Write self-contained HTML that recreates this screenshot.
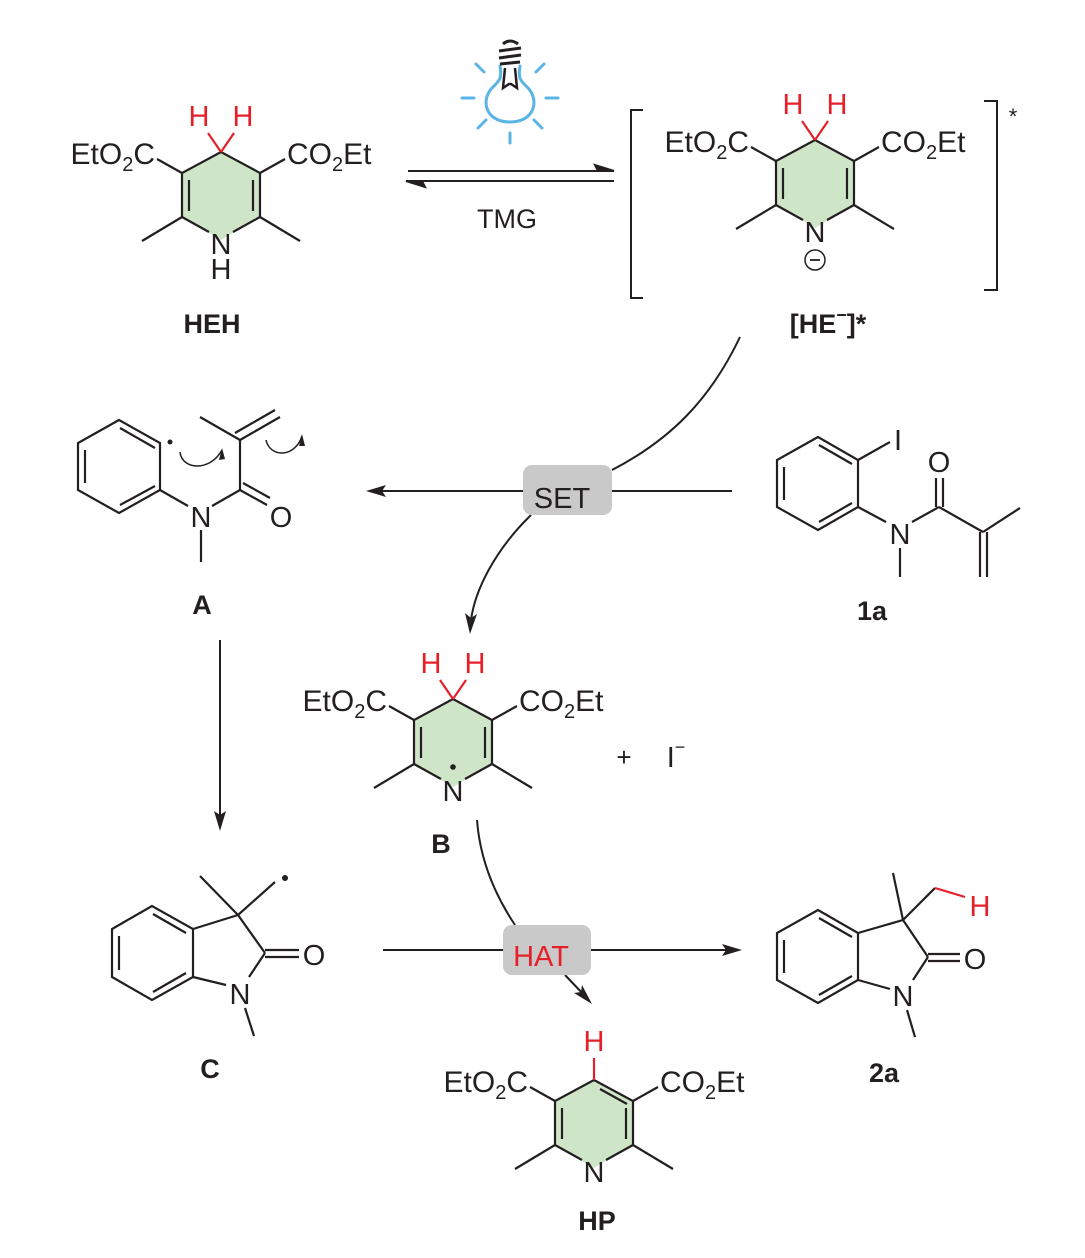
<!DOCTYPE html>
<html><head><meta charset="utf-8"><style>
html,body{margin:0;padding:0;background:#fff}
svg{display:block}
text{font-family:"Liberation Sans",Arial,sans-serif;fill:#231f20}
.b{font-weight:bold}
</style></head><body>
<svg width="1085" height="1258" viewBox="0 0 1085 1258" xmlns="http://www.w3.org/2000/svg">
<defs>
<g id="dhp">
  <polygon points="0,0 -39,21 -39,65 0,88 39,65 39,21" fill="#cfe5c8"/>
  <g stroke="#231f20" stroke-width="2.2" fill="none">
    <polyline points="39,65 39,21 0,0 -39,21 -39,65"/>
    <line x1="-39" y1="65" x2="-12" y2="80"/>
    <line x1="39" y1="65" x2="12" y2="80"/>
    <line x1="-32" y1="28" x2="-32" y2="59"/>
    <line x1="32" y1="28" x2="32" y2="59"/>
    <line x1="-39" y1="65" x2="-79" y2="89"/>
    <line x1="39" y1="65" x2="79" y2="89"/>
    <line x1="-39" y1="21" x2="-64" y2="7"/>
    <line x1="39" y1="21" x2="64" y2="7"/>
  </g>
  <text x="-66" y="12" font-size="30" text-anchor="end">EtO<tspan font-size="20" dy="7">2</tspan><tspan dy="-7">C</tspan></text>
  <text x="66" y="12" font-size="30">CO<tspan font-size="20" dy="7">2</tspan><tspan dy="-7">Et</tspan></text>
  <text x="0" y="102" font-size="29" text-anchor="middle">N</text>
</g>
<g id="hh">
  <g stroke="#e6202a" stroke-width="2.2"><line x1="0" y1="0" x2="-13" y2="-19"/><line x1="0" y1="0" x2="13" y2="-19"/></g>
  <text x="-22" y="-26" font-size="29" text-anchor="middle" style="fill:#e6202a">H</text>
  <text x="22" y="-26" font-size="29" text-anchor="middle" style="fill:#e6202a">H</text>
</g>
</defs>

<!-- HEH -->
<g transform="translate(221,152)"><use href="#dhp"/><use href="#hh"/>
<text x="0" y="127" font-size="29" text-anchor="middle">H</text></g>
<text x="212" y="333" font-size="27" class="b" text-anchor="middle">HEH</text>

<!-- bulb -->
<g stroke="#5ab4e5" stroke-width="3" fill="none" stroke-linecap="round">
  <path d="M500,66 C502,78 500,80 494,86 C480,98 484,122 510,122 C536,122 540,98 526,86 C520,80 518,78 520,66"/>
  <line x1="462" y1="98" x2="474" y2="98"/><line x1="546" y1="98" x2="558" y2="98"/>
  <line x1="476" y1="64" x2="484" y2="72"/><line x1="544" y1="64" x2="536" y2="72"/>
  <line x1="478" y1="128" x2="486" y2="120"/><line x1="542" y1="128" x2="534" y2="120"/>
  <line x1="510" y1="133" x2="510" y2="143"/>
</g>
<g stroke="#231f20" stroke-width="3" fill="none">
  <path d="M503,44 Q510,38 518,44"/><line x1="499" y1="51" x2="521" y2="48"/><line x1="499" y1="58" x2="521" y2="55"/><line x1="500" y1="64" x2="520" y2="62"/>
  <path d="M505,68 L503,88 L509,84 L511,84 L517,88 L515,68" stroke-width="2.5"/>
</g>

<!-- equilibrium -->
<g stroke="#231f20" stroke-width="2" fill="#231f20">
  <line x1="408" y1="171" x2="612" y2="171"/><polygon points="614,171 595,165 598,171" />
  <line x1="408" y1="181" x2="614" y2="181"/><polygon points="406,181 425,187 422,181"/>
</g>
<text x="507" y="228" font-size="27" text-anchor="middle">TMG</text>

<!-- HE-* -->
<g transform="translate(815,140)"><use href="#dhp"/><use href="#hh"/>
<circle cx="0" cy="120" r="10" fill="none" stroke="#231f20" stroke-width="1.5"/><line x1="-5" y1="120" x2="5" y2="120" stroke="#231f20" stroke-width="1.8"/></g>
<g stroke="#231f20" stroke-width="2" fill="none">
  <polyline points="643,110 631,110 631,298 643,298"/>
  <polyline points="984,101 997,101 997,290 984,290"/>
</g>
<text x="1013" y="124" font-size="22" text-anchor="middle">*</text>
<text x="828" y="333" font-size="27" class="b" text-anchor="middle">[HE<tspan font-size="18" dy="-12">−</tspan><tspan dy="12">]*</tspan></text>

<!-- SET arrows -->
<g stroke="#231f20" stroke-width="2" fill="none">
  <path d="M740,337 C710,400 670,440 612,470"/>
  <line x1="380" y1="491" x2="523" y2="491"/><line x1="612" y1="491" x2="732" y2="491"/>
  <path d="M531,515 C495,550 475,590 471,620"/>
</g>
<polygon points="366,491 386,485 382,491 386,497" fill="#231f20"/>
<polygon points="470,634 465,613 471,618 477,614" fill="#231f20"/>
<rect x="523" y="465" width="89" height="50" rx="9" fill="#c9c9c9"/>
<text x="562" y="508" font-size="29" text-anchor="middle">SET</text>

<!-- A -->
<g stroke="#231f20" stroke-width="2.2" fill="none">
  <polygon points="119,420 78,443 78,490 119,513 160,490 160,443"/>
  <line x1="120" y1="428" x2="155" y2="448"/><line x1="85" y1="450" x2="85" y2="483"/><line x1="120" y1="505" x2="155" y2="486"/>
  <line x1="160" y1="490" x2="188" y2="506"/><line x1="212" y1="506" x2="240" y2="490"/>
  <line x1="240" y1="490" x2="267" y2="505"/><line x1="243" y1="483" x2="270" y2="498"/>
  <line x1="240" y1="490" x2="240" y2="440"/><line x1="240" y1="440" x2="200" y2="417"/>
  <line x1="240" y1="440" x2="280" y2="417"/><line x1="235" y1="433" x2="275" y2="410"/>
  <line x1="201" y1="530" x2="201" y2="562"/>
  <path d="M180,452 C182,470 210,472 222,450" stroke-width="1.5"/>
  <path d="M266,440 C270,458 295,458 302,436" stroke-width="1.5"/>
</g>
<polygon points="222,448 219,460 225,459" fill="#231f20"/><polygon points="302,434 299,446 305,446" fill="#231f20"/>
<circle cx="170" cy="442" r="2.5" fill="#231f20"/>
<text x="201" y="527" font-size="29" text-anchor="middle">N</text>
<text x="281" y="527" font-size="29" text-anchor="middle">O</text>
<text x="202" y="614" font-size="27" class="b" text-anchor="middle">A</text>

<!-- 1a -->
<g stroke="#231f20" stroke-width="2.2" fill="none">
  <polygon points="818,437 777,460 777,507 818,530 858,507 858,460"/>
  <line x1="819" y1="445" x2="852" y2="464"/><line x1="784" y1="467" x2="784" y2="500"/><line x1="819" y1="522" x2="852" y2="503"/>
  <line x1="858" y1="460" x2="890" y2="442"/>
  <line x1="858" y1="507" x2="886" y2="522"/><line x1="912" y1="522" x2="939" y2="507"/>
  <line x1="936" y1="507" x2="936" y2="478"/><line x1="943" y1="507" x2="943" y2="478"/>
  <line x1="939" y1="507" x2="983" y2="532"/><line x1="983" y1="532" x2="1020" y2="508"/>
  <line x1="980" y1="532" x2="980" y2="577"/><line x1="987" y1="532" x2="987" y2="577"/>
  <line x1="900" y1="548" x2="900" y2="577"/>
</g>
<text x="898" y="450" font-size="29" text-anchor="middle">I</text>
<text x="900" y="544" font-size="29" text-anchor="middle">N</text>
<text x="939" y="472" font-size="29" text-anchor="middle">O</text>
<text x="872" y="620" font-size="27" class="b" text-anchor="middle">1a</text>

<!-- B -->
<g transform="translate(453,699)"><use href="#dhp"/><use href="#hh"/>
<circle cx="0" cy="68" r="2.8" fill="#231f20"/></g>
<text x="624" y="766" font-size="26" text-anchor="middle">+</text>
<text x="676" y="767" font-size="29" text-anchor="middle">I<tspan font-size="18" dy="-14">−</tspan></text>
<text x="441" y="853" font-size="27" class="b" text-anchor="middle">B</text>

<!-- A->C -->
<line x1="220" y1="640" x2="220" y2="815" stroke="#231f20" stroke-width="2"/>
<polygon points="220,831 214,811 220,815 226,811" fill="#231f20"/>

<!-- C -->
<g stroke="#231f20" stroke-width="2.2" fill="none">
  <polygon points="152,906 112,929 112,977 152,1000 193,977 193,929"/>
  <line x1="153" y1="914" x2="186" y2="933"/><line x1="119" y1="936" x2="119" y2="970"/><line x1="153" y1="992" x2="186" y2="973"/>
  <line x1="193" y1="929" x2="238" y2="915"/><line x1="238" y1="915" x2="200" y2="876"/><line x1="238" y1="915" x2="275" y2="882"/>
  <line x1="238" y1="915" x2="265" y2="953"/><line x1="265" y1="950" x2="299" y2="950"/><line x1="265" y1="957" x2="299" y2="957"/>
  <line x1="265" y1="953" x2="249" y2="977"/><line x1="193" y1="977" x2="226" y2="985"/>
  <line x1="245" y1="1008" x2="254" y2="1036"/>
</g>
<circle cx="285" cy="878" r="3" fill="#231f20"/>
<text x="314" y="965" font-size="29" text-anchor="middle">O</text>
<text x="240" y="1004" font-size="29" text-anchor="middle">N</text>
<text x="210" y="1078" font-size="27" class="b" text-anchor="middle">C</text>

<!-- HAT -->
<g stroke="#231f20" stroke-width="2" fill="none">
  <path d="M477,820 C480,860 495,895 515,925"/>
  <line x1="383" y1="950" x2="503" y2="950"/><line x1="591" y1="950" x2="728" y2="950"/>
  <line x1="565" y1="975" x2="585" y2="996"/>
</g>
<polygon points="742,950 722,944 726,950 722,956" fill="#231f20"/>
<polygon points="592,1004 574,993 581,992 582,985" fill="#231f20"/>
<rect x="503" y="925" width="88" height="50" rx="9" fill="#c9c9c9"/>
<text x="541" y="966" font-size="29" text-anchor="middle" style="fill:#e6202a">HAT</text>

<!-- 2a -->
<g stroke="#231f20" stroke-width="2.2" fill="none">
  <polygon points="818,910 777,933 777,980 818,1003 858,980 858,933"/>
  <line x1="819" y1="918" x2="852" y2="937"/><line x1="784" y1="940" x2="784" y2="973"/><line x1="819" y1="995" x2="852" y2="976"/>
  <line x1="858" y1="933" x2="903" y2="920"/><line x1="903" y1="920" x2="893" y2="873"/><line x1="903" y1="920" x2="935" y2="888"/>
  <line x1="903" y1="920" x2="928" y2="957"/><line x1="928" y1="954" x2="960" y2="954"/><line x1="928" y1="961" x2="960" y2="961"/>
  <line x1="928" y1="957" x2="913" y2="980"/><line x1="858" y1="980" x2="890" y2="989"/>
  <line x1="907" y1="1010" x2="915" y2="1037"/>
</g>
<line x1="935" y1="888" x2="965" y2="897" stroke="#e6202a" stroke-width="2.2"/>
<text x="980" y="916" font-size="29" text-anchor="middle" style="fill:#e6202a">H</text>
<text x="975" y="969" font-size="29" text-anchor="middle">O</text>
<text x="903" y="1006" font-size="29" text-anchor="middle">N</text>
<text x="884" y="1082" font-size="27" class="b" text-anchor="middle">2a</text>

<!-- HP -->
<g transform="translate(594,1080)"><use href="#dhp"/>
<line x1="6" y1="9" x2="33" y2="24" stroke="#231f20" stroke-width="2.2"/>
<line x1="0" y1="0" x2="0" y2="-22" stroke="#e6202a" stroke-width="2.2"/>
<text x="0" y="-29" font-size="29" text-anchor="middle" style="fill:#e6202a">H</text></g>
<text x="597" y="1230" font-size="27" class="b" text-anchor="middle">HP</text>
</svg>
</body></html>
